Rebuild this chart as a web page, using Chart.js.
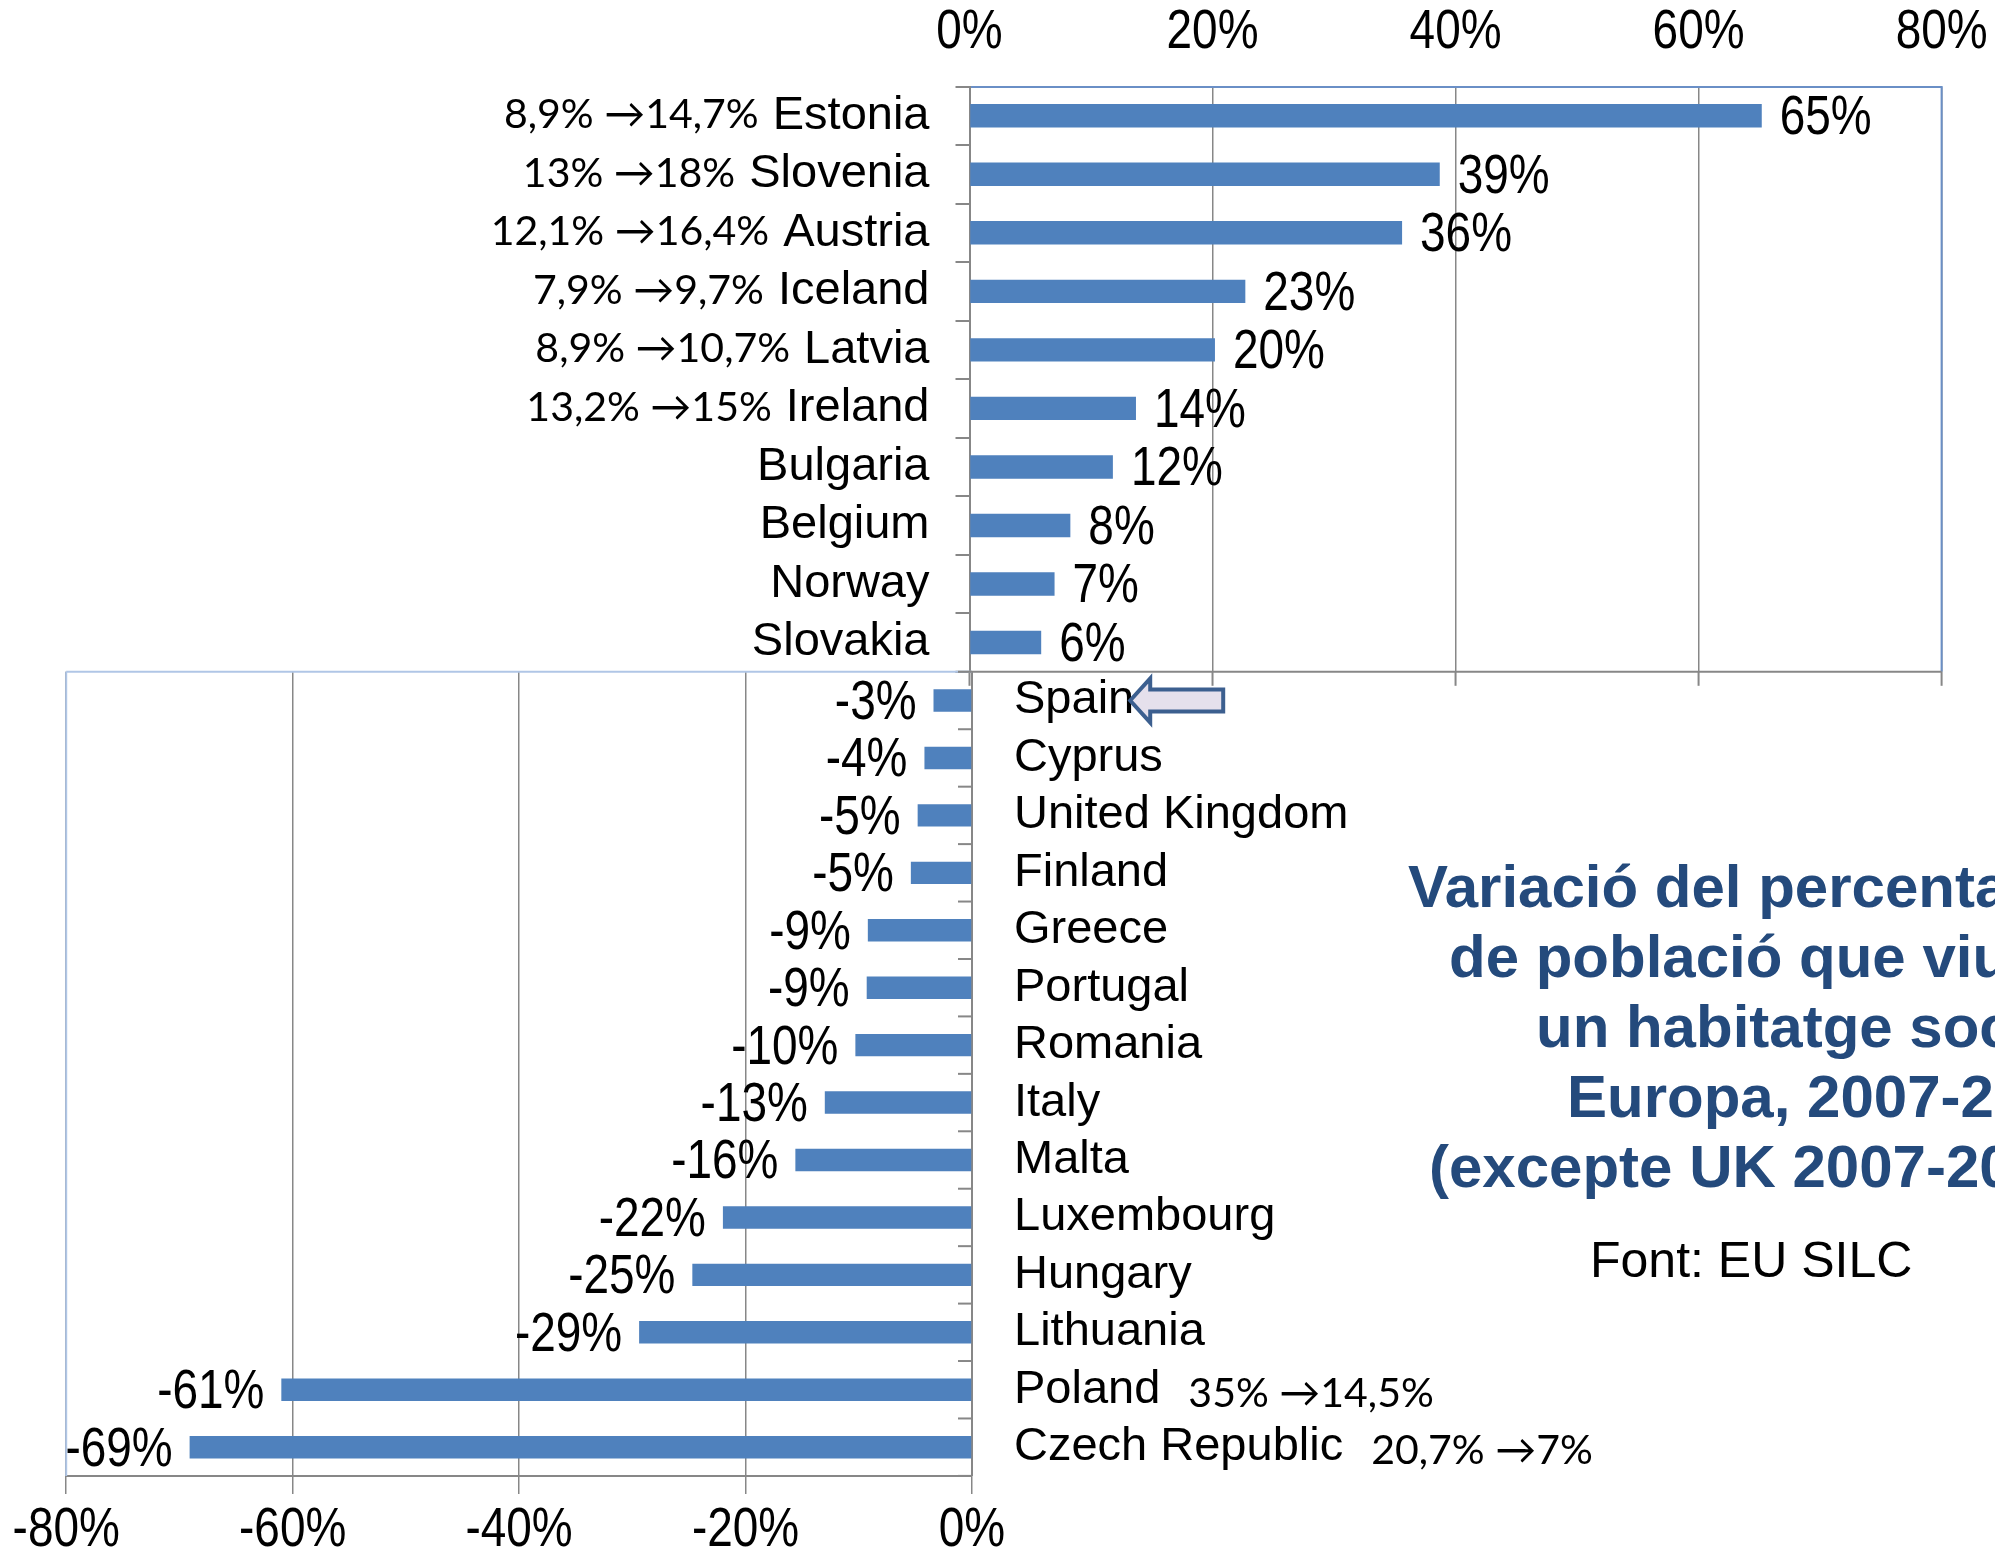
<!DOCTYPE html>
<html>
<head>
<meta charset="utf-8">
<script src="https://cdn.jsdelivr.net/npm/chart.js@4.4.1/dist/chart.umd.min.js"></script>
<style>
  html, body { margin: 0; padding: 0; background: #fff; }
  body { width: 1995px; height: 1551px; position: relative; overflow: hidden; }
  canvas { position: absolute; left: 0; }
  #topChart { top: 0; }
  #bottomChart { top: 650px; }
  .title { position: absolute; white-space: nowrap; font-family: 'Liberation Sans', Arial, sans-serif;
           font-weight: bold; font-size: 60px; line-height: 70px; color: #244a7c; }
  #source { position: absolute; left: 1590px; top: 1230px; white-space: nowrap; line-height: 60px;
            font-family: 'Liberation Sans', Arial, sans-serif; font-size: 50px; color: #000; }
</style>
</head>
<body>
<canvas id="topChart" width="1995" height="700"></canvas>
<canvas id="bottomChart" width="1995" height="901"></canvas>

<div class="title" style="left:1408px; top:852px">Variació del percentatge</div>
<div class="title" style="left:1449px; top:922px">de població que viu en</div>
<div class="title" style="left:1536px; top:992px">un habitatge social a</div>
<div class="title" style="left:1567px; top:1062px">Europa, 2007-2010</div>
<div class="title" style="left:1429px; top:1132px">(excepte UK 2007-2009)</div>
<div id="source">Font: EU SILC</div>

<script>
// ---- data ----
const topCountries = ['Estonia', 'Slovenia', 'Austria', 'Iceland', 'Latvia', 'Ireland',
  'Bulgaria', 'Belgium', 'Norway', 'Slovakia'];
const topValues = [65.2, 38.7, 35.6, 22.7, 20.2, 13.7, 11.8, 8.3, 7.0, 5.9];
const topNotes = ['8,9% →14,7%', '13% →18%', '12,1% →16,4%', '7,9% →9,7%', '8,9% →10,7%',
  '13,2% →15%', '', '', '', ''];
const topTicks = [0, 20, 40, 60, 80];

const bottomCountries = ['Spain', 'Cyprus', 'United Kingdom', 'Finland', 'Greece', 'Portugal',
  'Romania', 'Italy', 'Malta', 'Luxembourg', 'Hungary', 'Lithuania', 'Poland', 'Czech Republic'];
const bottomValues = [-3.4, -4.2, -4.8, -5.4, -9.2, -9.3, -10.3, -13.0, -15.6, -22.0, -24.7,
  -29.4, -61.0, -69.1];
const bottomNotes = ['', '', '', '', '', '', '', '', '', '', '', '', '35% →14,5%', '20,7% →7%'];
const bottomTicks = [-80, -60, -40, -20, 0];

// ---- styles ----
const barBlue = '#4f81bd';
const gridGray = '#878787';
const topFrame = '#6a8fc6';
const bottomFrame = '#b0c6e6';
const regular = "'Liberation Sans', Arial, sans-serif";
const catFont = { family: regular, size: 47 };
const narrowFontStr = "56px " + regular;   // drawn squeezed to look like Arial Narrow
const catFontStr = "47px " + regular;
const noteFontStr = "41px Lato, 'DejaVu Sans', sans-serif";

const pct = v => Math.round(v) + '%';

function line(ctx, x1, y1, x2, y2) {
  ctx.beginPath(); ctx.moveTo(x1, y1); ctx.lineTo(x2, y2); ctx.stroke();
}

// condensed text, 82% width
function narrowText(ctx, text, x, y, align) {
  ctx.save();
  ctx.translate(x, y);
  ctx.scale(0.82, 1);
  ctx.font = narrowFontStr;
  ctx.textAlign = align;
  ctx.textBaseline = 'middle';
  ctx.fillStyle = '#000';
  ctx.fillText(text, 0, 0);
  ctx.restore();
}

// no extra room for labels overflowing the plot
const noPad = s => { s.paddingLeft = 0; s.paddingRight = 0; s.paddingTop = 0; s.paddingBottom = 0; };

// =============================================================
// Top chart (increases)
// =============================================================
const topExtras = {
  id: 'topExtras',
  afterDraw(chart) {
    const { ctx, chartArea: a, scales: { x, y } } = chart;
    ctx.save();
    ctx.lineWidth = 2;
    ctx.strokeStyle = topFrame;
    line(ctx, a.right, a.top, a.right, a.bottom);
    ctx.strokeStyle = gridGray;
    line(ctx, a.left - 14, a.bottom, a.right, a.bottom);
    topTicks.forEach(v => {
      const px = x.getPixelForValue(v);
      line(ctx, px, a.bottom, px, a.bottom + 14);
      narrowText(ctx, v + '%', px, a.top - 54, 'center');
    });

    chart.getDatasetMeta(0).data.forEach((bar, i) => {
      narrowText(ctx, pct(topValues[i]), bar.x + 18, bar.y + 3, 'left');
    });

    // side notes left of the country names
    ctx.fillStyle = '#000';
    ctx.textBaseline = 'middle';
    ctx.textAlign = 'right';
    topNotes.forEach((note, i) => {
      if (!note) return;
      ctx.font = catFontStr;
      const w = ctx.measureText(topCountries[i]).width;
      const labelLeft = a.left - 40 - w;
      ctx.font = noteFontStr;
      ctx.fillText(note, labelLeft - 14, y.getPixelForValue(i) - 1);
    });
    ctx.restore();
  }
};

new Chart(document.getElementById('topChart'), {
  type: 'bar',
  data: {
    labels: topCountries,
    datasets: [{ data: topValues, backgroundColor: barBlue, barPercentage: 0.4, categoryPercentage: 1 }]
  },
  options: {
    indexAxis: 'y',
    responsive: false,
    animation: false,
    layout: { padding: { left: 0, right: 53.4, top: 0, bottom: 28.2 } },
    plugins: { legend: { display: false }, tooltip: { enabled: false } },
    scales: {
      x: {
        position: 'top', min: 0, max: 80,
        afterBuildTicks: s => { s.ticks = topTicks.map(v => ({ value: v })); },
        afterFit: s => { s.height = 86.5; noPad(s); },
        ticks: { display: false },
        grid: { color: gridGray, lineWidth: 1.5, drawTicks: false },
        border: { color: topFrame, width: 2 }
      },
      y: {
        afterFit: s => { s.width = 969.5; noPad(s); },
        ticks: { font: catFont, color: '#000', padding: 26, autoSkip: false },
        grid: { drawOnChartArea: false, color: gridGray, lineWidth: 2, tickLength: 14 },
        border: { color: gridGray, width: 2 }
      }
    }
  },
  plugins: [topExtras]
});

// =============================================================
// Bottom chart (decreases)
// =============================================================
const bottomExtras = {
  id: 'bottomExtras',
  afterDraw(chart) {
    const { ctx, chartArea: a, scales: { x, y } } = chart;
    ctx.save();
    ctx.lineWidth = 2;
    ctx.strokeStyle = bottomFrame;
    line(ctx, a.left, a.top, a.right, a.top);
    line(ctx, a.left, a.top, a.left, a.bottom);

    // category tick marks, inside the plot
    ctx.strokeStyle = gridGray;
    const half = (y.getPixelForValue(1) - y.getPixelForValue(0)) / 2;
    for (let i = 0; i <= bottomCountries.length; i++) {
      const py = y.getPixelForValue(i) - half;
      line(ctx, a.right - 14, py, a.right, py);
    }

    bottomTicks.forEach(v => {
      narrowText(ctx, v + '%', x.getPixelForValue(v), a.bottom + 55, 'center');
    });

    chart.getDatasetMeta(0).data.forEach((bar, i) => {
      narrowText(ctx, pct(bottomValues[i]), bar.x - 17, bar.y + 3, 'right');
    });

    // side notes after the country names
    ctx.fillStyle = '#000';
    ctx.textBaseline = 'middle';
    ctx.textAlign = 'left';
    bottomNotes.forEach((note, i) => {
      if (!note) return;
      ctx.font = catFontStr;
      const w = ctx.measureText(bottomCountries[i]).width;
      ctx.font = noteFontStr;
      ctx.fillText(note, a.right + 42 + w + 28, y.getPixelForValue(i) + 4);
    });

    // arrow pointing at Spain
    ctx.font = catFontStr;
    const tip = a.right + 42 + ctx.measureText(bottomCountries[0]).width - 4;
    const cy = y.getPixelForValue(0);
    ctx.beginPath();
    ctx.moveTo(tip, cy);
    ctx.lineTo(tip + 20, cy - 22);
    ctx.lineTo(tip + 20, cy - 11);
    ctx.lineTo(tip + 93, cy - 11);
    ctx.lineTo(tip + 93, cy + 11);
    ctx.lineTo(tip + 20, cy + 11);
    ctx.lineTo(tip + 20, cy + 22);
    ctx.closePath();
    ctx.fillStyle = '#e5e0ec';
    ctx.fill();
    ctx.lineWidth = 4;
    ctx.strokeStyle = '#3c5f8f';
    ctx.stroke();
    ctx.restore();
  }
};

new Chart(document.getElementById('bottomChart'), {
  type: 'bar',
  data: {
    labels: bottomCountries,
    datasets: [{ data: bottomValues, backgroundColor: barBlue, barPercentage: 0.39, categoryPercentage: 1 }]
  },
  options: {
    indexAxis: 'y',
    responsive: false,
    animation: false,
    layout: { padding: { left: 66.2, right: 0, top: 21.8, bottom: 0 } },
    plugins: { legend: { display: false }, tooltip: { enabled: false } },
    scales: {
      x: {
        position: 'bottom', min: -80, max: 0,
        afterBuildTicks: s => { s.ticks = bottomTicks.map(v => ({ value: v })); },
        afterFit: s => { s.height = 75.1; noPad(s); },
        ticks: { display: false },
        grid: { color: gridGray, lineWidth: 1.5, tickLength: 18 },
        border: { color: gridGray, width: 2 }
      },
      y: {
        position: 'right',
        afterFit: s => { s.width = 1023; noPad(s); },
        ticks: { font: catFont, color: '#000', padding: 42, autoSkip: false },
        grid: { drawOnChartArea: false, drawTicks: false },
        border: { color: gridGray, width: 2 }
      }
    }
  },
  plugins: [bottomExtras]
});
</script>
</body>
</html>
